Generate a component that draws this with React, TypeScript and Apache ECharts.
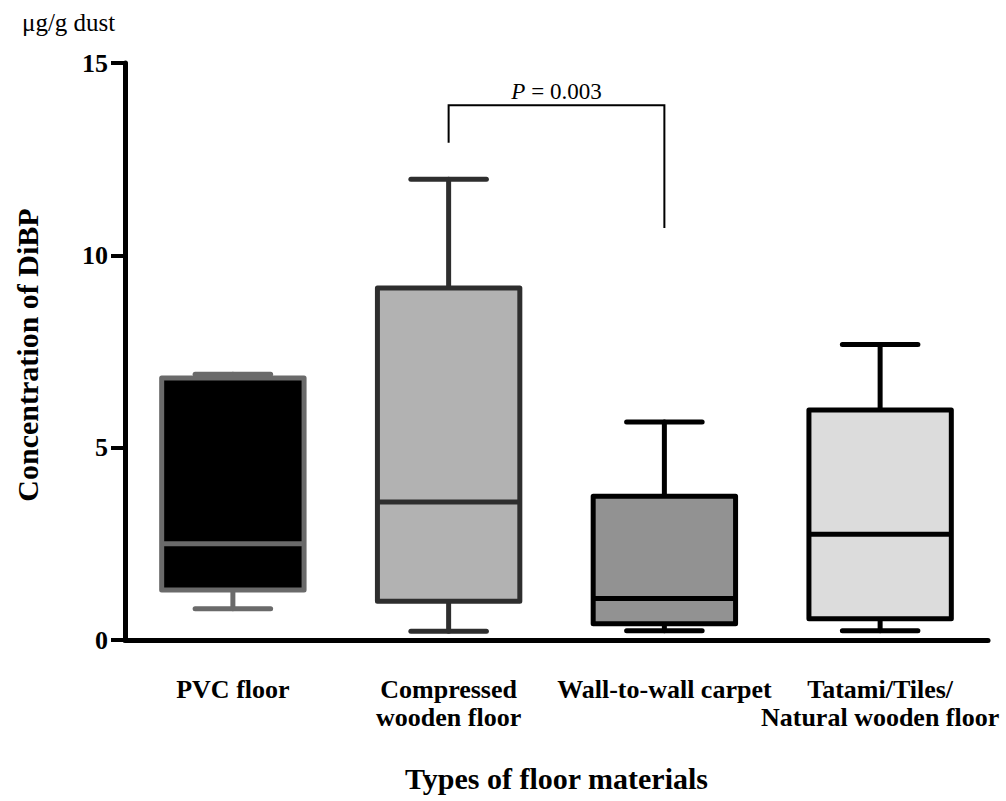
import React, { useEffect, useRef } from "react";
import * as echarts from "echarts";

const categories = [
  "PVC floor",
  "Compressed\nwooden floor",
  "Wall-to-wall carpet",
  "Tatami/Tiles/\nNatural wooden floor",
];
// [low whisker, Q1, median, Q3, high whisker]
const pvcFloor = [0.81, 1.3, 2.5, 6.81, 6.91];
const compressedWood = [0.23, 1.01, 3.59, 9.15, 11.98];
const wallCarpet = [0.24, 0.42, 1.08, 3.74, 5.67];
const tatamiTiles = [0.24, 0.55, 2.75, 5.98, 7.68];
const yTicks = [0, 5, 10, 15];

const boxFills = ["#000000", "#b2b2b2", "#929292", "#dcdcdc"];
const boxStrokes = ["#6a6a6a", "#2e2e2e", "#000000", "#000000"];

// bracket: [from category, to category, top, left bottom, right bottom]
const bracket = [1, 2, 13.9, 12.93, 10.71];
const pLabel = "0.003";

const FONT = "'Liberation Serif', 'Times New Roman', serif";

export default function App() {
  const ref = useRef<HTMLDivElement>(null);
  useEffect(() => {
    if (!ref.current) return;
    const chart = echarts.init(ref.current, null, { renderer: "svg" });
    const boxData = [pvcFloor, compressedWood, wallCarpet, tatamiTiles].map((b, i) => [i, ...b]);
    chart.setOption({
      animation: false,
      backgroundColor: "#ffffff",
      textStyle: { fontFamily: FONT },
      grid: { left: 125, right: 18, top: 63, bottom: 161, containLabel: false },
      xAxis: {
        type: "category",
        data: categories,
        boundaryGap: true,
        name: "Types of floor materials",
        nameLocation: "middle",
        nameGap: 123,
        nameTextStyle: { fontFamily: FONT, fontWeight: "bold", fontSize: 30, color: "#000" },
        axisLine: { lineStyle: { color: "#000", width: 5 } },
        axisTick: { alignWithLabel: true, length: 15, lineStyle: { color: "#000", width: 4 } },
        axisLabel: {
          interval: 0,
          margin: 35,
          fontFamily: FONT,
          fontWeight: "bold",
          fontSize: 26,
          lineHeight: 28,
          color: "#000",
        },
        splitLine: { show: false },
      },
      yAxis: {
        type: "value",
        min: yTicks[0],
        max: yTicks[yTicks.length - 1],
        interval: 5,
        axisLine: { show: true, lineStyle: { color: "#000", width: 5 } },
        axisTick: { show: true, length: 14, lineStyle: { color: "#000", width: 4 } },
        axisLabel: {
          margin: 17,
          fontFamily: FONT,
          fontWeight: "bold",
          fontSize: 26,
          color: "#000",
        },
        splitLine: { show: false },
      },
      graphic: [
        {
          type: "text",
          left: 22,
          top: 10,
          style: { text: "μg/g dust", font: `25px ${FONT}`, fill: "#000" },
        },
        {
          type: "text",
          x: 27,
          y: 355,
          rotation: Math.PI / 2,
          style: {
            text: "Concentration of DiBP",
            font: `bold 30px ${FONT}`,
            fill: "#000",
            align: "center",
            verticalAlign: "middle",
          },
        },
      ],
      series: [
        {
          type: "custom",
          data: boxData,
          encode: { x: 0, y: [1, 2, 3, 4, 5] },
          renderItem: (params: any, api: any) => {
            const i = api.value(0);
            const low = api.coord([i, api.value(1)]);
            const q1 = api.coord([i, api.value(2)]);
            const med = api.coord([i, api.value(3)]);
            const q3 = api.coord([i, api.value(4)]);
            const high = api.coord([i, api.value(5)]);
            const band = api.size([1, 0])[0];
            const half = band * 0.33;
            const capHalf = band * 0.175;
            const x = low[0];
            const stroke = boxStrokes[params.dataIndex];
            const fill = boxFills[params.dataIndex];
            const ls = { stroke, lineWidth: 5, lineCap: "round", lineJoin: "round", fill: null };
            return {
              type: "group",
              children: [
                { type: "line", shape: { x1: x, y1: q3[1], x2: x, y2: high[1] }, style: ls },
                { type: "line", shape: { x1: x - capHalf, y1: high[1], x2: x + capHalf, y2: high[1] }, style: ls },
                { type: "line", shape: { x1: x, y1: q1[1], x2: x, y2: low[1] }, style: ls },
                { type: "line", shape: { x1: x - capHalf, y1: low[1], x2: x + capHalf, y2: low[1] }, style: ls },
                {
                  type: "rect",
                  shape: { x: x - half, y: q3[1], width: half * 2, height: q1[1] - q3[1] },
                  style: { fill, stroke, lineWidth: 5, lineJoin: "round" },
                },
                { type: "line", shape: { x1: x - half, y1: med[1], x2: x + half, y2: med[1] }, style: { stroke, lineWidth: 5, lineCap: "butt" } },
              ],
            };
          },
          z: 3,
        },
        {
          type: "custom",
          data: [bracket],
          encode: { x: [0, 1], y: [2, 3, 4] },
          renderItem: (params: any, api: any) => {
            const a = api.value(0);
            const b = api.value(1);
            const top = api.value(2);
            const lb = api.coord([a, api.value(3)]);
            const lt = api.coord([a, top]);
            const rt = api.coord([b, top]);
            const rb = api.coord([b, api.value(4)]);
            return {
              type: "group",
              children: [
                {
                  type: "polyline",
                  shape: { points: [lb, lt, rt, rb] },
                  style: { stroke: "#000", lineWidth: 2, fill: null },
                },
                {
                  type: "text",
                  x: (lt[0] + rt[0]) / 2,
                  y: lt[1] - 14,
                  style: {
                    text: `{i|P}{n| = ${pLabel}}`,
                    align: "center",
                    verticalAlign: "middle",
                    rich: {
                      i: { fontFamily: FONT, fontStyle: "italic", fontSize: 23, fill: "#000", color: "#000" },
                      n: { fontFamily: FONT, fontSize: 23, fill: "#000", color: "#000" },
                    },
                  },
                },
              ],
            };
          },
          z: 4,
        },
      ],
    });
    return () => chart.dispose();
  }, []);
  return <div ref={ref} style={{ position: "fixed", left: 0, top: 0, width: 1006, height: 801 }} />;
}
